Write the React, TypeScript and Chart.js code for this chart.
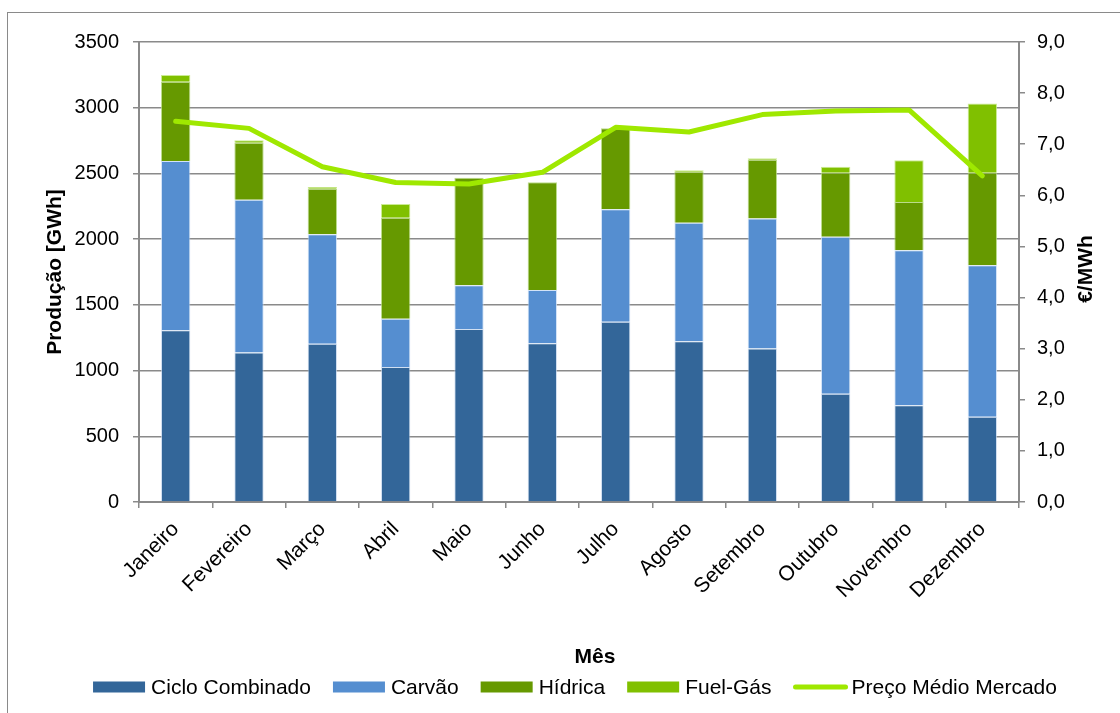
import React, { useEffect, useRef } from 'react';
import { Chart, registerables } from 'chart.js';

Chart.register(...registerables);

// Monthly production by source (GWh) and average market price (€/MWh)
const months = [
  'Janeiro', 'Fevereiro', 'Março', 'Abril', 'Maio', 'Junho',
  'Julho', 'Agosto', 'Setembro', 'Outubro', 'Novembro', 'Dezembro',
];
const cicloCombinado = [1307, 1137, 1205, 1028, 1317, 1208, 1371, 1224, 1167, 824, 736, 648];
const carvao = [1287, 1163, 832, 367, 332, 405, 856, 901, 991, 1195, 1179, 1153];
const hidrica = [604, 434, 347, 768, 819, 819, 616, 388, 447, 487, 368, 705];
const fuelGas = [51, 18, 13, 104, 0, 0, 0, 11, 10, 45, 317, 527];
const precoMedio = [7.45, 7.31, 6.56, 6.25, 6.22, 6.45, 7.33, 7.24, 7.58, 7.65, 7.67, 6.38];

const FONT = "'Liberation Sans', Arial, Helvetica, sans-serif";
const AXIS_GREY = '#8a8a8a';

const COLORS = {
  ciclo: '#336699',
  carvao: '#558ED0',
  hidrica: '#669900',
  fuel: '#80C000',
  preco: '#9FE800',
};

// Legend, x-axis title and right-axis title drawn on the canvas
const annotationsPlugin = {
  id: 'annotations',
  afterDraw(chart: any) {
    const { ctx, chartArea } = chart;
    ctx.save();

    // x-axis title
    ctx.fillStyle = '#000';
    ctx.font = `bold 21px ${FONT}`;
    ctx.textAlign = 'center';
    ctx.textBaseline = 'middle';
    ctx.fillText('Mês', (chartArea.left + chartArea.right) / 2 + 16, 657);

    // right axis title, reading bottom to top
    ctx.save();
    ctx.translate(chartArea.right + 67, (chartArea.top + chartArea.bottom) / 2 - 3);
    ctx.rotate(-Math.PI / 2);
    ctx.fillText('€/MWh', 0, 0);
    ctx.restore();

    // legend
    ctx.font = `21px ${FONT}`;
    const boxW = 52;
    const boxH = 11;
    const textGap = 6;
    const itemGap = 22;
    const items = chart.data.datasets.map((ds: any) => ({
      text: ds.label as string,
      isLine: ds.type === 'line',
      color: ds.type === 'line' ? ds.borderColor : ds.backgroundColor,
    }));
    const widths = items.map((it: any) => boxW + textGap + ctx.measureText(it.text).width);
    const total = widths.reduce((a: number, b: number) => a + b, 0) + itemGap * (items.length - 1);
    let x = (chartArea.left + chartArea.right) / 2 - 4 - total / 2;
    const y = 687;
    ctx.textAlign = 'left';
    items.forEach((it: any, i: number) => {
      if (it.isLine) {
        ctx.strokeStyle = it.color;
        ctx.lineWidth = 5;
        ctx.lineCap = 'round';
        ctx.beginPath();
        ctx.moveTo(x + 2, y);
        ctx.lineTo(x + boxW, y);
        ctx.stroke();
      } else {
        ctx.fillStyle = it.color;
        ctx.fillRect(x, y - boxH / 2, boxW, boxH);
      }
      ctx.fillStyle = '#000';
      ctx.fillText(it.text, x + boxW + textGap, y + 1);
      x += widths[i] + itemGap;
    });

    ctx.restore();
  },
};

export default function App() {
  const canvasRef = useRef<HTMLCanvasElement | null>(null);

  useEffect(() => {
    if (!canvasRef.current) return;
    const chart = new Chart(canvasRef.current, {
      type: 'bar',
      data: {
        labels: months,
        datasets: [
          {
            label: 'Ciclo Combinado',
            data: cicloCombinado,
            backgroundColor: COLORS.ciclo,
            borderColor: 'rgba(190,210,235,0.7)',
            borderWidth: 1,
            yAxisID: 'y',
          },
          {
            label: 'Carvão',
            data: carvao,
            backgroundColor: COLORS.carvao,
            borderColor: 'rgba(200,220,245,0.8)',
            borderWidth: 1,
            yAxisID: 'y',
          },
          {
            label: 'Hídrica',
            data: hidrica,
            backgroundColor: COLORS.hidrica,
            borderColor: 'rgba(170,210,110,0.8)',
            borderWidth: 1,
            yAxisID: 'y',
          },
          {
            label: 'Fuel-Gás',
            data: fuelGas,
            backgroundColor: COLORS.fuel,
            borderColor: 'rgba(190,230,120,0.8)',
            borderWidth: 1,
            yAxisID: 'y',
          },
          {
            type: 'line',
            label: 'Preço Médio Mercado',
            data: precoMedio,
            borderColor: COLORS.preco,
            backgroundColor: COLORS.preco,
            borderWidth: 5,
            borderCapStyle: 'round',
            borderJoinStyle: 'round',
            pointRadius: 0,
            tension: 0,
            yAxisID: 'y1',
            order: -1,
          } as any,
        ],
      },
      options: {
        animation: false,
        responsive: false,
        maintainAspectRatio: false,
        layout: { padding: { top: 42, left: 0, right: 0, bottom: 0 } },
        datasets: {
          bar: { barPercentage: 0.4, categoryPercentage: 1.0 },
        },
        plugins: {
          legend: { display: false },
          tooltip: { enabled: false },
          title: { display: false },
        },
        scales: {
          x: {
            stacked: true,
            offset: true,
            grid: {
              offset: true,
              drawOnChartArea: false,
              drawTicks: true,
              tickLength: 6,
              color: AXIS_GREY,
              lineWidth: 1.5,
            },
            border: { color: AXIS_GREY, width: 2 },
            ticks: {
              color: '#000',
              font: { family: FONT, size: 21 },
              minRotation: 45,
              maxRotation: 45,
              padding: 9,
              autoSkip: false,
            },
            afterFit(scale: any) {
              scale.height = 211;
            },
          },
          y: {
            stacked: true,
            position: 'left',
            min: 0,
            max: 3500,
            grid: {
              color: AXIS_GREY,
              lineWidth: 1.5,
              tickLength: 6,
            },
            border: { color: AXIS_GREY, width: 2 },
            ticks: {
              stepSize: 500,
              color: '#000',
              padding: 14,
              font: { family: FONT, size: 20 },
              callback: (v: any) => String(v),
            },
            title: {
              display: true,
              text: 'Produção [GWh]',
              color: '#000',
              font: { family: FONT, size: 21, weight: 'bold' },
              padding: { top: 43, bottom: 0 },
            },
            afterFit(scale: any) {
              scale.width = 139;
            },
          },
          y1: {
            position: 'right',
            min: 0,
            max: 9,
            grid: {
              drawOnChartArea: false,
              color: AXIS_GREY,
              lineWidth: 1.5,
              tickLength: 6,
            },
            border: { color: AXIS_GREY, width: 2 },
            ticks: {
              stepSize: 1,
              color: '#000',
              padding: 12,
              font: { family: FONT, size: 20 },
              callback: (v: any) => Number(v).toFixed(1).replace('.', ','),
            },
            afterFit(scale: any) {
              scale.width = 101;
            },
          },
        },
      },
      plugins: [annotationsPlugin],
    });
    return () => chart.destroy();
  }, []);

  return (
    <div style={{ position: 'fixed', inset: 0, overflow: 'hidden', background: '#fff' }}>
      <div
        style={{
          position: 'absolute',
          left: 7,
          top: 12,
          width: 1200,
          height: 800,
          border: '1px solid #8a8a8a',
        }}
      />
      <canvas
        ref={canvasRef}
        width={1120}
        height={713}
        style={{ position: 'absolute', left: 0, top: 0, width: 1120, height: 713 }}
      />
    </div>
  );
}
